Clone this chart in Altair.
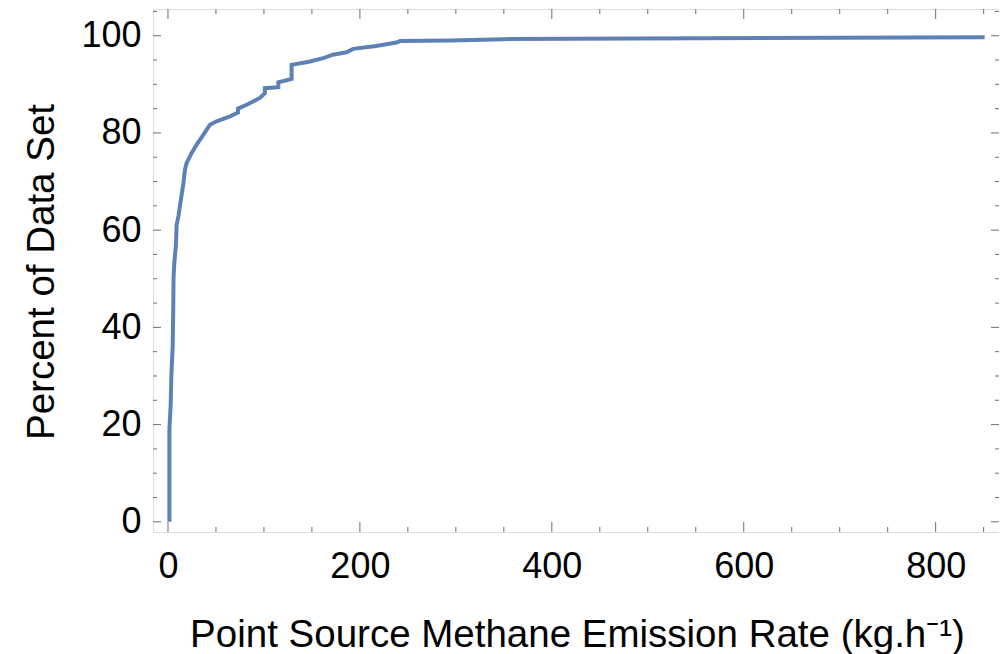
import altair as alt
import pandas as pd

rate = [1.5, 1.5, 1.5, 2.8, 3.5, 4.9, 5.5, 5.8, 6.5, 8.3, 9, 11, 12.5, 14, 16,
        17.7, 19.4, 24.7, 29.9, 36.8, 43.75, 50.7, 64.6, 73, 73, 82, 95.8,
        101, 101, 115, 115, 128.8, 128.8, 148, 161.8, 172, 186, 193, 217,
        238, 241.7, 294, 350, 851]
percent = [0, 10, 19, 24, 30, 36, 44, 50, 53, 57, 61, 63, 65, 67, 69.5,
           72.4, 73.8, 75.9, 77.6, 79.6, 81.7, 82.4, 83.4, 84.2, 85.0, 85.8,
           87.2, 88.2, 89.2, 89.4, 90.4, 91.1, 94.0, 94.7, 95.4, 96.1, 96.6,
           97.3, 97.9, 98.6, 98.9, 99.0, 99.3, 99.7]

x_major = [0, 200, 400, 600, 800]
x_minor = [50, 100, 150, 250, 300, 350, 450, 500, 550, 650, 700, 750, 850]
y_major = [0, 20, 40, 60, 80, 100]
y_minor = [5, 10, 15, 25, 30, 35, 45, 50, 55, 65, 70, 75, 85, 90, 95, 105]

W, H = 846, 523
FONT = "Liberation Sans"
FS = 36
TFS = 38.5
TICK = "#6e6e6e"

df = pd.DataFrame({"rate": rate, "percent": percent, "i": list(range(len(rate)))})

xs = alt.Scale(domain=[-15.6, 866], nice=False, zero=False)
ys = alt.Scale(domain=[-2.1, 105.5], nice=False, zero=False)

X_AXIS = alt.Axis(
    values=x_major, ticks=False, tickSize=0, domain=False, grid=False,
    labelFont=FONT, labelFontSize=FS, labelColor="black",
    labelBaseline="alphabetic", labelPadding=45,
    title="Point Source Methane Emission Rate (kg.h\u207b\u00b9)",
    titleFont=FONT, titleFontSize=TFS, titleFontWeight="normal", titleColor="black",
    titleBaseline="alphabetic", titleAlign="center", titleX=W / 2 + 1, titleY=114)
Y_AXIS = alt.Axis(
    values=y_major, ticks=False, tickSize=0, domain=False, grid=False,
    labelFont=FONT, labelFontSize=FS, labelColor="black",
    labelBaseline="middle", labelPadding=12,
    title="Percent of Data Set",
    titleFont=FONT, titleFontSize=TFS, titleFontWeight="normal", titleColor="black",
    titleBaseline="alphabetic", titleAlign="center", titleAngle=270,
    titleX=-100, titleY=H / 2 + 1)

line = alt.Chart(df).mark_line(color="#5E81B5", strokeWidth=4, clip=True).encode(
    x=alt.X("rate:Q", scale=xs, axis=X_AXIS),
    y=alt.Y("percent:Q", scale=ys, axis=Y_AXIS),
    order="i:Q",
)


def xticks(vals, length, top):
    d = pd.DataFrame({"rate": vals})
    if top:
        yv, y2v = 0, length
    else:
        yv, y2v = H, H - length
    return alt.Chart(d).mark_rule(color=TICK, strokeWidth=1).encode(
        x=alt.X("rate:Q", scale=xs, axis=X_AXIS),
        y=alt.value(yv), y2=alt.value(y2v))


def yticks(vals, length, right):
    d = pd.DataFrame({"percent": vals})
    if right:
        xv, x2v = W, W - length
    else:
        xv, x2v = 0, length
    return alt.Chart(d).mark_rule(color=TICK, strokeWidth=1).encode(
        y=alt.Y("percent:Q", scale=ys, axis=Y_AXIS),
        x=alt.value(xv), x2=alt.value(x2v))


chart = alt.layer(
    line,
    xticks(x_major, 10, False), xticks(x_minor, 5, False),
    xticks(x_major, 10, True), xticks(x_minor, 5, True),
    yticks(y_major, 8, False), yticks(y_minor, 4, False),
    yticks(y_major, 8, True), yticks(y_minor, 4, True),
).properties(
    width=W, height=H,
    autosize=alt.AutoSizeParams(type="none"),
    padding={"left": 145, "top": 1, "right": 0, "bottom": 122},
).configure_view(stroke="#6e6e6e", strokeWidth=1.2).configure(background="white")

chart.save("out.html", embed_options={"renderer": "svg", "actions": False})
